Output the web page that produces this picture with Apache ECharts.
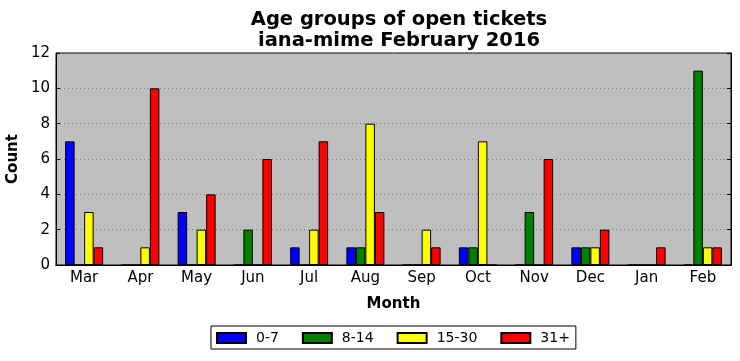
<!DOCTYPE html>
<html>
<head>
<meta charset="utf-8">
<script src="https://cdn.jsdelivr.net/npm/echarts@6/dist/echarts.min.js"></script>
<style>html,body{margin:0;padding:0;background:#fff}#c{width:740px;height:361px}</style>
</head>
<body>
<div id="c"></div>
<script>
var months = ['Mar','Apr','May','Jun','Jul','Aug','Sep','Oct','Nov','Dec','Jan','Feb'];
var age0_7   = [7,0,3,0,1,1,0,1,0,1,0,0];
var age8_14  = [0,0,0,2,0,1,0,1,3,1,0,11];
var age15_30 = [3,1,2,0,2,8,2,7,0,1,0,1];
var age31    = [1,10,4,6,7,3,1,0,6,2,1,1];
var seriesNames = ['0-7','8-14','15-30','31+'];
var seriesColors = ['#0000ff','#008000','#ffff00','#ff0000'];

var font = 'DejaVu Sans';
var chart = echarts.init(document.getElementById('c'));
var dataArr = [age0_7, age8_14, age15_30, age31];
var series = dataArr.map(function(d, i){
  return {
    name: seriesNames[i], type: 'bar', data: d,
    barWidth: 9.5, barGap: '0%',
    itemStyle: {color: seriesColors[i], borderColor: '#000', borderWidth: 1},
    emphasis: {disabled: true}
  };
});
chart.setOption({
  animation: false,
  backgroundColor: '#fff',
  title: {
    text: 'Age groups of open tickets\niana-mime February 2016',
    left: 394, top: 4, textAlign: 'center',
    textStyle: {fontFamily: font, fontSize: 19.5, fontWeight: 'bold', color: '#000', lineHeight: 21}
  },
  legend: {
    data: seriesNames, top: 326, left: 211,
    itemWidth: 29, itemHeight: 10, itemGap: 23,
    borderColor: '#000', borderWidth: 1, padding: [5, 6, 4, 5],
    textStyle: {fontFamily: font, fontSize: 14, color: '#000', padding: [0,0,0,5]},
    icon: 'rect'
  },
  grid: {left: 56, right: 9, top: 53, bottom: 96, outerBoundsMode: 'none', show: true, backgroundColor: '#bfbfbf', borderColor: '#000', borderWidth: 1},
  xAxis: [{
    type: 'category', data: months, position: 'bottom',
    name: 'Month', nameLocation: 'middle', nameGap: 32,
    nameTextStyle: {fontFamily: font, fontSize: 15, fontWeight: 'bold', color: '#000'},
    axisLine: {lineStyle: {color: '#000'}},
    axisTick: {alignWithLabel: true, inside: true, length: 4, lineStyle: {color: '#000'}},
    axisLabel: {fontFamily: font, fontSize: 15, color: '#000', margin: 6}
  }, {
    type: 'category', data: months, position: 'top',
    axisLine: {lineStyle: {color: '#000'}},
    axisTick: {alignWithLabel: true, inside: true, length: 4, lineStyle: {color: '#000'}},
    axisLabel: {show: false}
  }],
  yAxis: [{
    type: 'value', min: 0, max: 12, interval: 2,
    name: 'Count', nameLocation: 'middle', nameGap: 35, nameMoveOverlap: false,
    nameTextStyle: {fontFamily: font, fontSize: 15, fontWeight: 'bold', color: '#000'},
    axisLine: {show: true, lineStyle: {color: '#000'}},
    axisTick: {show: true, inside: true, length: 4, lineStyle: {color: '#000'}},
    axisLabel: {fontFamily: font, fontSize: 15, color: '#000', margin: 6},
    splitLine: {show: true, lineStyle: {color: '#808080', type: [1, 3], width: 1}}
  }, {
    type: 'value', min: 0, max: 12, interval: 2, position: 'right',
    axisLine: {show: true, lineStyle: {color: '#000'}},
    axisTick: {show: true, inside: true, length: 4, lineStyle: {color: '#000'}},
    axisLabel: {show: false},
    splitLine: {show: false}
  }],
  series: series
});
</script>
</body>
</html>
